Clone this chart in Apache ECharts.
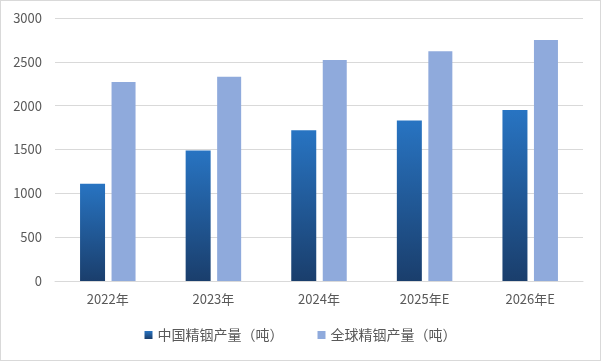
<!DOCTYPE html>
<html><head><meta charset="utf-8">
<script src="https://cdn.jsdelivr.net/npm/echarts@6/dist/echarts.min.js"></script>
<style>html,body{margin:0;padding:0;background:#fff}#c{position:absolute;left:0;top:0;width:599px;height:359px;border:1px solid #d9d9d9}</style>
</head><body><div id="c"></div>
<script>
const categories = ['2022年','2023年','2024年','2025年E','2026年E'];
const chinaOutput = [1110, 1490, 1720, 1830, 1950];
const globalOutput = [2270, 2330, 2520, 2620, 2750];
const seriesNames = ['中国精铟产量（吨）','全球精铟产量（吨）'];
const chart = echarts.init(document.getElementById('c'));
const font = '"Noto Sans CJK SC", sans-serif';
chart.setOption({
  animation:false,
  textStyle:{fontFamily:font},
  grid:{left:54,right:17,top:17,bottom:79,containLabel:false},
  legend:{bottom:13,left:'center',itemWidth:8,itemHeight:8,itemGap:34,icon:'rect',
    textStyle:{color:'#595959',fontSize:14,fontFamily:font},data:seriesNames},
  xAxis:{type:'category',data:categories,axisTick:{show:false},
    axisLine:{lineStyle:{color:'#d9d9d9'}},
    axisLabel:{color:'#595959',fontSize:13,margin:12,fontFamily:font}},
  yAxis:{type:'value',min:0,max:3000,interval:500,
    axisLine:{show:false},axisTick:{show:false},
    splitLine:{lineStyle:{color:'#d9d9d9'}},
    axisLabel:{color:'#595959',fontSize:13,margin:13,fontFamily:font,formatter:v=>String(v)}},
  series:[
    {name:seriesNames[0],type:'bar',data:chinaOutput,barWidth:25,barGap:'26%',
     itemStyle:{color:new echarts.graphic.LinearGradient(0,0,0,1,[{offset:0,color:'#2874c2'},{offset:1,color:'#1a3e6c'}])}},
    {name:seriesNames[1],type:'bar',data:globalOutput,barWidth:24,
     itemStyle:{color:'#8faadc'}}
  ]
});
</script></body></html>
